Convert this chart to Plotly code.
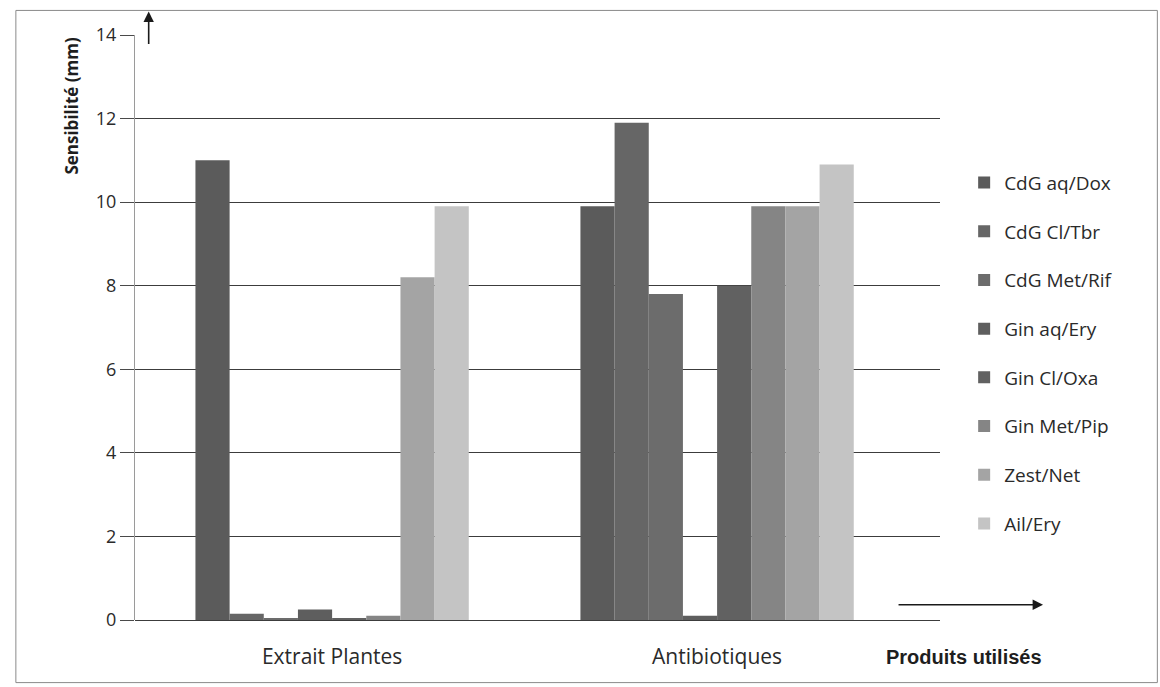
import plotly.graph_objects as go

# Categories on the x axis
categories = ["Extrait Plantes", "Antibiotiques"]

# Series names (extract / antibiotic pairs)
series_names = [
    "CdG aq/Dox", "CdG Cl/Tbr", "CdG Met/Rif", "Gin aq/Ery",
    "Gin Cl/Oxa", "Gin Met/Pip", "Zest/Net", "Ail/Ery",
]

# Sensitivity (mm) per series: [Extrait Plantes, Antibiotiques]
cdg_aq_dox = [11.0, 9.9]
cdg_cl_tbr = [0.15, 11.9]
cdg_met_rif = [0.05, 7.8]
gin_aq_ery = [0.25, 0.1]
gin_cl_oxa = [0.05, 8.0]
gin_met_pip = [0.1, 9.9]
zest_net = [8.2, 9.9]
ail_ery = [9.9, 10.9]

y_ticks = [0, 2, 4, 6, 8, 10, 12, 14]

series_values = [cdg_aq_dox, cdg_cl_tbr, cdg_met_rif, gin_aq_ery,
                 gin_cl_oxa, gin_met_pip, zest_net, ail_ery]
colors = ["#5b5b5b", "#666666", "#6c6c6c", "#5e5e5e",
          "#616161", "#858585", "#a4a4a4", "#c4c4c4"]

FONT = "Open Sans"
TEXT = "#2a2a2a"

fig = go.Figure()
for i, (name, vals, col) in enumerate(zip(series_names, series_values, colors)):
    fig.add_trace(go.Bar(
        name=name, x=categories, y=vals, legendgroup=f"g{i}",
        marker=dict(color=col, line=dict(width=0)),
    ))

fig.update_layout(
    width=1160, height=687,
    margin=dict(l=135, r=220, t=35, b=67),
    paper_bgcolor="white", plot_bgcolor="white",
    barmode="group", bargap=0.29, bargroupgap=0,
    font=dict(family=FONT, color=TEXT),
    showlegend=True,
    legend=dict(
        x=1.03, y=0.78, xanchor="left", yanchor="top",
        font=dict(size=19, family=FONT, color=TEXT),
        tracegroupgap=21, itemwidth=30,
        bgcolor="rgba(0,0,0,0)",
    ),
    xaxis=dict(
        range=[-0.512, 1.579],
        showgrid=False, showline=False, ticks="",
        ticklabelstandoff=22,
        tickfont=dict(size=21, family=FONT, color=TEXT),
    ),
    yaxis=dict(
        range=[0, 14], tickvals=y_ticks,
        showgrid=True, gridcolor="#3c3c3c", gridwidth=1,
        zeroline=True, zerolinecolor="#3c3c3c", zerolinewidth=1,
        ticks="outside", ticklen=14, tickcolor="#4a4a4a",
        showline=True, linecolor="#9a9a9a", linewidth=1,
        tickfont=dict(size=18, family=FONT, color=TEXT),
    ),
)

# Axis captions
fig.add_annotation(
    text="<b>Sensibilité (mm)</b>", textangle=-90,
    xref="paper", yref="paper", x=-0.08, y=1.0,
    xanchor="center", yanchor="top", showarrow=False,
    font=dict(size=17, family=FONT, color="#1e1e1e"),
)
fig.add_annotation(
    text="<b>Produits utilisés</b>",
    xref="paper", yref="paper", x=1.03, y=-0.064,
    xanchor="center", yanchor="middle", showarrow=False,
    font=dict(size=20, family="Liberation Sans Narrow, Liberation Sans", color="#1e1e1e"),
)

# Axis arrows
fig.add_annotation(
    xref="paper", yref="paper", x=0.017, y=1.04,
    ax=0, ay=34, axref="pixel", ayref="pixel",
    showarrow=True, arrowhead=2, arrowsize=1.3, arrowwidth=1.6,
    arrowcolor="#1a1a1a", text="",
)
fig.add_annotation(
    xref="paper", yref="paper", x=1.128, y=0.026,
    ax=-146, ay=0, axref="pixel", ayref="pixel",
    showarrow=True, arrowhead=2, arrowsize=1.3, arrowwidth=1.6,
    arrowcolor="#1a1a1a", text="",
)

# Outer frame of the chart area
fig.add_shape(
    type="rect", xref="paper", yref="paper",
    x0=-0.148, x1=1.27, y0=-0.107, y1=1.042,
    line=dict(color="#8a8a8a", width=1),
)

fig.write_html("out.html")
